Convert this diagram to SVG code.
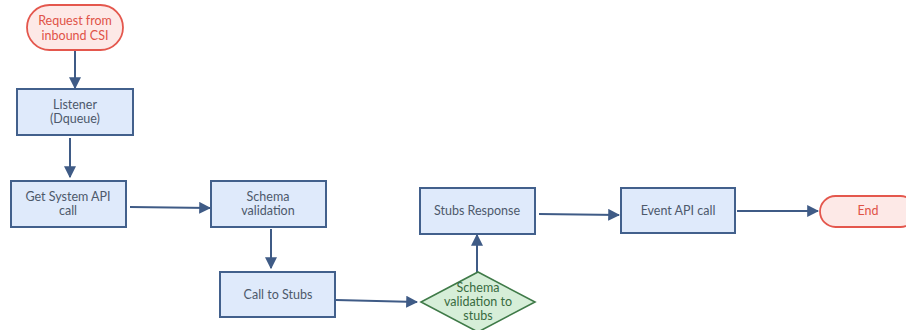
<svg xmlns="http://www.w3.org/2000/svg" width="906" height="330" viewBox="0 0 906 330">
<defs>
<marker id="ah" viewBox="0 0 10 10" refX="9" refY="5" markerWidth="6" markerHeight="6" orient="auto" markerUnits="strokeWidth">
<path d="M0,0 L10,5 L0,10 z" fill="#3f5b86"/>
</marker>
</defs>
<style>
.box{fill:#dfeafb;stroke:#42608c;stroke-width:2}
.term{fill:#fde9e7;stroke:#e4574d;stroke-width:1.8}
.dec{fill:#d6eed8;stroke:#3f7a48;stroke-width:1.6}
.t{font-family:Lato,"Open Sans","Liberation Sans",sans-serif;font-size:12.5px;fill:#4d596b;text-anchor:middle}
.tr{font-family:Lato,"Open Sans","Liberation Sans",sans-serif;font-size:12.5px;fill:#e05347;text-anchor:middle}
.tg{font-family:Lato,"Open Sans","Liberation Sans",sans-serif;font-size:12.5px;fill:#386b40;text-anchor:middle}
.c{fill:none;stroke:#3f5b86;stroke-width:2;marker-end:url(#ah)}
</style>
<rect width="906" height="330" fill="#ffffff"/>
<g id="connectors">
<path class="c" d="M75,50 L75,88"/>
<path class="c" d="M70,138 L70,177"/>
<path class="c" d="M130,207 L210,208"/>
<path class="c" d="M271,229 L271,268"/>
<path class="c" d="M336,300 L417,302"/>
<path class="c" d="M477,272 L477,235"/>
<path class="c" d="M539,214 L619,215"/>
<path class="c" d="M737,211 L818,211"/>
</g>
<g id="start">
<rect class="term" x="27" y="5" width="96" height="45" rx="22.5"/>
<text class="tr" x="75" y="25">Request from</text>
<text class="tr" x="75" y="40">inbound CSI</text>
</g>
<g id="listener">
<rect class="box" x="17" y="89" width="116" height="46"/>
<text class="t" x="75" y="109">Listener</text>
<text class="t" x="75" y="123">(Dqueue)</text>
</g>
<g id="getsystem">
<rect class="box" x="11" y="181" width="115" height="46"/>
<text class="t" x="68" y="201">Get System API</text>
<text class="t" x="68" y="215">call</text>
</g>
<g id="schema">
<rect class="box" x="211" y="181" width="115" height="46"/>
<text class="t" x="268" y="201">Schema</text>
<text class="t" x="268" y="215">validation</text>
</g>
<g id="calltostubs">
<rect class="box" x="220" y="272" width="115" height="45"/>
<text class="t" x="278" y="299">Call to Stubs</text>
</g>
<g id="schemastubs">
<polygon class="dec" points="478,272 535,302 478,332 421,302"/>
<text class="tg" x="478" y="292">Schema</text>
<text class="tg" x="478" y="306">validation to</text>
<text class="tg" x="478" y="320">stubs</text>
</g>
<g id="stubsresponse">
<rect class="box" x="420" y="188" width="115" height="46"/>
<text class="t" x="477" y="215">Stubs Response</text>
</g>
<g id="eventapi">
<rect class="box" x="621" y="188" width="114" height="45"/>
<text class="t" x="678" y="215">Event API call</text>
</g>
<g id="end">
<rect class="term" x="820" y="196" width="96" height="31" rx="15.5"/>
<text class="tr" x="868" y="215">End</text>
</g>
</svg>
